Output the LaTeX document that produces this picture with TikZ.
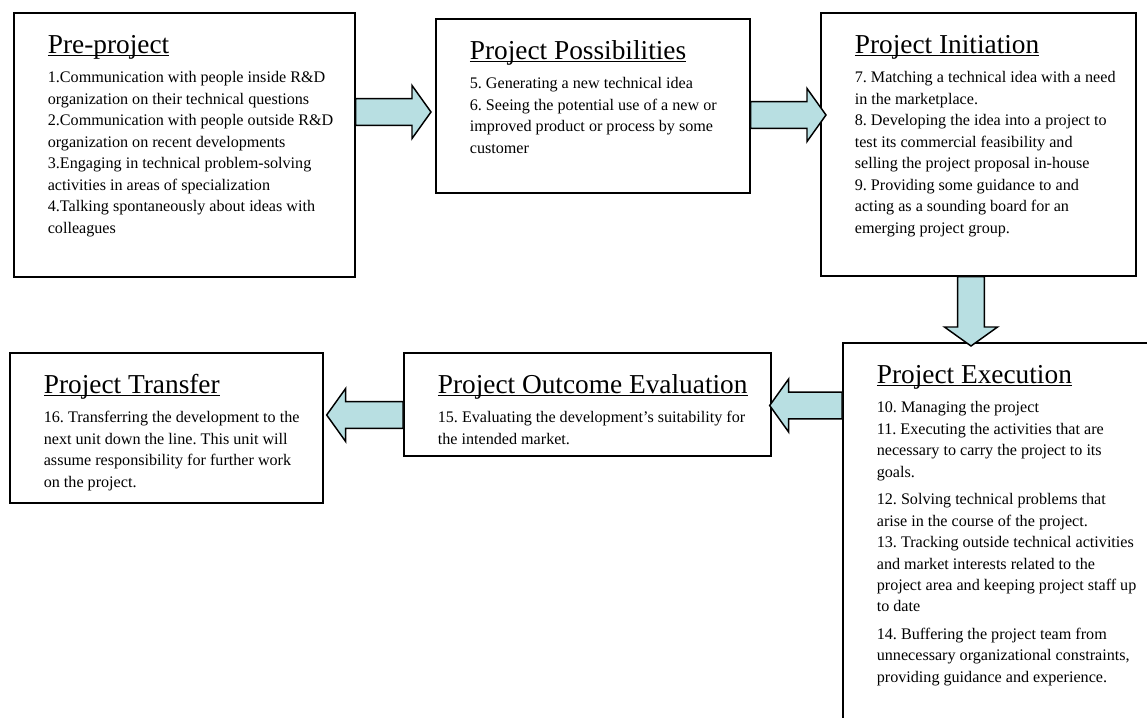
\documentclass[tikz,border=0pt]{standalone}
\usepackage{fontspec}
\setmainfont{Liberation Serif}
\usetikzlibrary{calc}

\definecolor{arrowblue}{RGB}{184,223,226}

% underlined heading, rule sitting just under the baseline
\newcommand\ulined[1]{\setbox0\hbox{#1}\rlap{\rule[-1.7pt]{\wd0}{0.8pt}}\box0}

% text block of a stage box: width, height, heading, list of activities
\newcommand\stagetext[4]{%
  \begin{minipage}[c][#2][t]{#1}%
    \frenchspacing
    \leftskip=25.5pt \rightskip=0pt plus 1fil \parindent=0pt
    \fontsize{20.5}{24}\selectfont\rule{0pt}{30.75pt}\ulined{#3}\par
    \fontsize{12.1}{16.1}\selectfont\vspace{5.6pt}#4\par
  \end{minipage}}

% block arrow dimensions
\def\arrsh{10.1pt}  % half shaft width
\def\arrhh{19.9pt}  % half head width
\def\arrhl{14.25pt} % head length

% horizontal block arrow: tail point, tip point, point on the arrow axis
\newcommand\harrow[3]{%
  \draw[barrow] let \p1=(#1), \p2=(#2), \p3=(#3), \n1={sign(\x2-\x1)} in
    (\x1,{\y3+\arrsh}) -- ({\x2-\n1*\arrhl},{\y3+\arrsh}) --
    ({\x2-\n1*\arrhl},{\y3+\arrhh}) -- (\x2,\y3) --
    ({\x2-\n1*\arrhl},{\y3-\arrhh}) -- ({\x2-\n1*\arrhl},{\y3-\arrsh}) --
    (\x1,{\y3-\arrsh}) -- cycle;}

% vertical block arrow: tail point, tip point, point on the arrow axis
\newcommand\varrow[3]{%
  \draw[barrow] let \p1=(#1), \p2=(#2), \p3=(#3), \n1={sign(\y2-\y1)} in
    ({\x3+\arrsh},\y1) -- ({\x3+\arrsh},{\y2-\n1*\arrhl}) --
    ({\x3+\arrhh},{\y2-\n1*\arrhl}) -- (\x3,\y2) --
    ({\x3-\arrhh},{\y2-\n1*\arrhl}) -- ({\x3-\arrsh},{\y2-\n1*\arrhl}) --
    ({\x3-\arrsh},\y1) -- cycle;}

\tikzset{
  stage/.style={draw, line width=1.25pt, inner sep=0pt, anchor=north west, fill=white},
  barrow/.style={draw, fill=arrowblue, line width=1.1pt, line join=miter},
}

\begin{document}
\begin{tikzpicture}[x=0.75pt, y=-0.75pt]
  \useasboundingbox (0,0) rectangle (1147,718);
  \clip (0,0) rectangle (1147,718);
  \fill[white] (0,0) rectangle (1147,718);

  \node[stage] (pre) at (13,12) {\stagetext{255.75pt}{198pt}{Pre-project}{%
    1.Communication with people inside R\&D\\
    organization on their technical questions\\
    2.Communication with people outside R\&D\\
    organization on recent developments\\
    3.Engaging in technical problem-solving\\
    activities in areas of specialization\\
    4.Talking spontaneously about ideas with\\
    colleagues}};

  \node[stage] (poss) at (435,18) {\stagetext{235.5pt}{130.5pt}{Project Possibilities}{%
    5. Generating a new technical idea\\
    6. Seeing the potential use of a new or\\
    improved product or process by some\\
    customer}};

  \node[stage] (init) at (820,12) {\stagetext{236.25pt}{197.25pt}{Project Initiation}{%
    7. Matching a technical idea with a need\\
    in the marketplace.\\
    8. Developing the idea into a project to\\
    test its commercial feasibility and\\
    selling the project proposal in-house\\
    9. Providing some guidance to and\\
    acting as a sounding board for an\\
    emerging project group.}};

  % this stage runs on past the right and bottom edges of the sheet
  \node[stage] (exec) at (842,342) {\stagetext{330pt}{320pt}{Project Execution}{%
    10. Managing the project\\
    11. Executing the activities that are\\
    necessary to carry the project to its\\
    goals.\\[4.5pt]
    12. Solving technical problems that\\
    arise in the course of the project.\\
    13. Tracking outside technical activities\\
    and market interests related to the\\
    project area and keeping project staff up\\
    to date\\[4.5pt]
    14. Buffering the project team from\\
    unnecessary organizational constraints,\\
    providing guidance and experience.}};

  \node[stage] (eval) at (403,352) {\stagetext{275.25pt}{77.25pt}{Project Outcome Evaluation}{%
    15. Evaluating the development’s suitability for\\
    the intended market.}};

  \node[stage] (transfer) at (9,352) {\stagetext{234.75pt}{112.5pt}{Project Transfer}{%
    16. Transferring the development to the\\
    next unit down the line. This unit will\\
    assume responsibility for further work\\
    on the project.}};

  % axes of the block arrows
  \coordinate (ax1) at (0,112);
  \coordinate (ax2) at (0,115);
  \coordinate (ax3) at (971,0);
  \coordinate (ax4) at (0,405.5);
  \coordinate (ax5) at (0,415);

  \harrow{pre.east}{$(poss.west)+(-4,0)$}{ax1}
  \harrow{poss.east}{$(init.west)+(6,0)$}{ax2}
  \varrow{init.south}{$(exec.north west)+(129,4)$}{ax3}
  \harrow{exec.west}{$(eval.east)+(-2,0)$}{ax4}
  \harrow{eval.west}{$(transfer.east)+(3,0)$}{ax5}
\end{tikzpicture}
\end{document}
